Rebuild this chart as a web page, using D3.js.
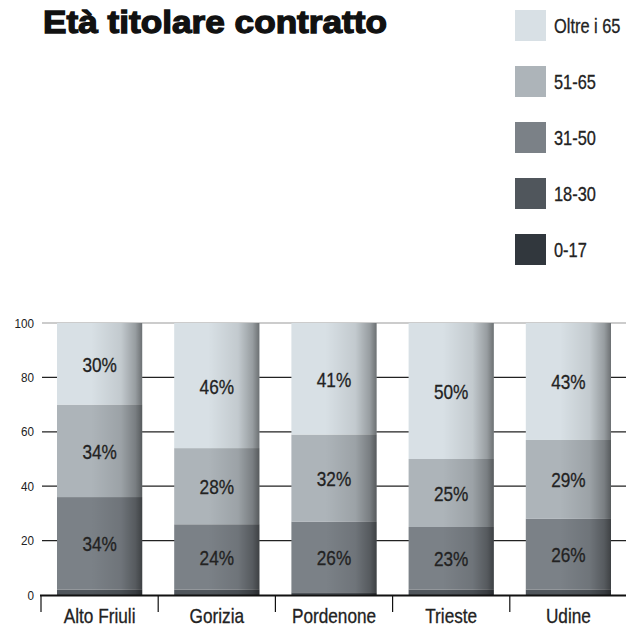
<!DOCTYPE html>
<html>
<head>
<meta charset="utf-8">
<script src="https://cdn.jsdelivr.net/npm/d3@7"></script>
<style>
  body { margin: 0; background: #fff; }
  .cond { font-family: 'Liberation Sans', Arial, sans-serif; }
</style>
</head>
<body>
<svg id="chart" width="626" height="626"></svg>
<script>
var categories = ["Alto Friuli", "Gorizia", "Pordenone", "Trieste", "Udine"]
var ageGroups = ["0-17", "18-30", "31-50", "51-65", "Oltre i 65"]
var legendOrder = ["Oltre i 65", "51-65", "31-50", "18-30", "0-17"]
var colors = ["#31373d", "#50565c", "#7b8187", "#adb4b9", "#d8e0e5"]

// percent per age group, bottom to top
var v017   = [0, 0, 0, 0, 0]
var v1830  = [2, 2, 1, 2, 2]
var v3150  = [34, 24, 26, 23, 26]
var v5165  = [34, 28, 32, 25, 29]
var vOltre = [30, 46, 41, 50, 43]
var yTicks = [0, 20, 40, 60, 80, 100]

var rows = categories.map(function(c, i){
  return {cat: c, "0-17": v017[i], "18-30": v1830[i], "31-50": v3150[i], "51-65": v5165[i], "Oltre i 65": vOltre[i]}
})

var svg = d3.select("#chart")
var squeeze = 0.82

var x = d3.scaleBand().domain(categories).range([41, 627]).paddingInner(0.273).paddingOuter(0.1365)
var y = d3.scaleLinear().domain([0, 100]).range([595, 323])
var color = d3.scaleOrdinal().domain(ageGroups).range(colors)

// shading for the cylinder look
var defs = svg.append("defs")
var grad = defs.append("linearGradient").attr("id", "shade").attr("x1", 0).attr("x2", 1).attr("y1", 0).attr("y2", 0)
grad.append("stop").attr("offset", "0.4").attr("stop-color", "#000").attr("stop-opacity", 0)
grad.append("stop").attr("offset", "0.75").attr("stop-color", "#000").attr("stop-opacity", 0.1)
grad.append("stop").attr("offset", "0.92").attr("stop-color", "#000").attr("stop-opacity", 0.3)
grad.append("stop").attr("offset", "1").attr("stop-color", "#000").attr("stop-opacity", 0.5)

// title
svg.append("text")
  .attr("x", 43).attr("y", 33)
  .attr("textLength", 344).attr("lengthAdjust", "spacingAndGlyphs")
  .style("font-family", "'Liberation Sans', Arial, sans-serif")
  .style("font-weight", "bold")
  .style("font-size", "32px")
  .attr("fill", "#111").attr("stroke", "#111").attr("stroke-width", 1.3)
  .text("Età titolare contratto")

// legend
var legend = svg.append("g").selectAll("g").data(legendOrder).enter().append("g")
  .attr("transform", function(d, i){ return "translate(515," + (10 + i * 56) + ")" })
legend.append("rect").attr("width", 31).attr("height", 31).attr("fill", function(d){ return color(d) })
legend.append("g").attr("transform", "translate(39,23) scale(" + squeeze + ",1)")
  .append("text").attr("class", "cond")
  .style("font-size", "20px").attr("fill", "#222").attr("stroke", "#222").attr("stroke-width", 0.3)
  .text(function(d){ return d })

// y axis + gridlines
var yAxis = svg.append("g").attr("transform", "translate(42,0)")
  .call(d3.axisLeft(y).tickValues(yTicks).tickSize(0).tickPadding(9))
yAxis.select(".domain").remove()
yAxis.selectAll("text").attr("class", "cond").style("font-size", "13px").attr("fill", "#222")
  .attr("transform", "scale(0.9,1)")

svg.append("g").selectAll("line").data(yTicks.filter(function(t){ return t > 0 })).enter().append("line")
  .attr("x1", 42).attr("x2", 626)
  .attr("y1", function(d){ return y(d) }).attr("y2", function(d){ return y(d) })
  .attr("stroke", function(d){ return d == 100 ? "#999" : "#222" })
  .attr("stroke-width", 1.2)

// stacked bars
var series = d3.stack().keys(ageGroups)(rows)

var layers = svg.append("g").selectAll("g").data(series).enter().append("g")
  .attr("fill", function(d){ return color(d.key) })
layers.selectAll("rect").data(function(d){ return d }).enter().append("rect")
  .attr("x", function(d){ return x(d.data.cat) })
  .attr("width", x.bandwidth())
  .attr("y", function(d){ return y(d[1]) })
  .attr("height", function(d){ return y(d[0]) - y(d[1]) })

svg.append("g").selectAll("rect").data(rows).enter().append("rect")
  .attr("x", function(d){ return x(d.cat) })
  .attr("width", x.bandwidth())
  .attr("y", y(100)).attr("height", y(0) - y(100))
  .attr("fill", "url(#shade)")

// percent labels (skip the thin bottom ones)
var labelled = series.filter(function(s){ return s.key != "0-17" && s.key != "18-30" })
labelled.forEach(function(s){
  svg.append("g").selectAll("g").data(s).enter().append("g")
    .attr("transform", function(d){
      return "translate(" + (x(d.data.cat) + x.bandwidth() / 2) + "," + (y((d[0] + d[1]) / 2) + 8) + ") scale(" + squeeze + ",1)"
    })
    .append("text")
    .attr("class", "cond")
    .attr("text-anchor", "middle")
    .style("font-size", "21px").attr("fill", "#222").attr("stroke", "#222").attr("stroke-width", 0.3)
    .text(function(d){ return (d[1] - d[0]) + "%" })
})

// baseline
svg.append("line").attr("x1", 40).attr("x2", 626).attr("y1", y(0) + 0.5).attr("y2", y(0) + 0.5)
  .attr("stroke", "#111").attr("stroke-width", 2)

// category dividers and labels
svg.append("g").selectAll("line").data(categories).enter().append("line")
  .attr("x1", function(d){ return x(d) - x.step() * x.paddingInner() / 2 })
  .attr("x2", function(d){ return x(d) - x.step() * x.paddingInner() / 2 })
  .attr("y1", y(0)).attr("y2", 612)
  .attr("stroke", "#111").attr("stroke-width", 1.2)

var xAxis = svg.append("g").attr("transform", "translate(0," + y(0) + ")")
  .call(d3.axisBottom(x).tickSize(0).tickPadding(13))
xAxis.select(".domain").remove()
xAxis.selectAll("text").attr("class", "cond").style("font-size", "21px").attr("fill", "#222")
  .attr("stroke", "#222").attr("stroke-width", 0.3)
  .attr("transform", "scale(" + squeeze + ",1)")
</script>
</body>
</html>
